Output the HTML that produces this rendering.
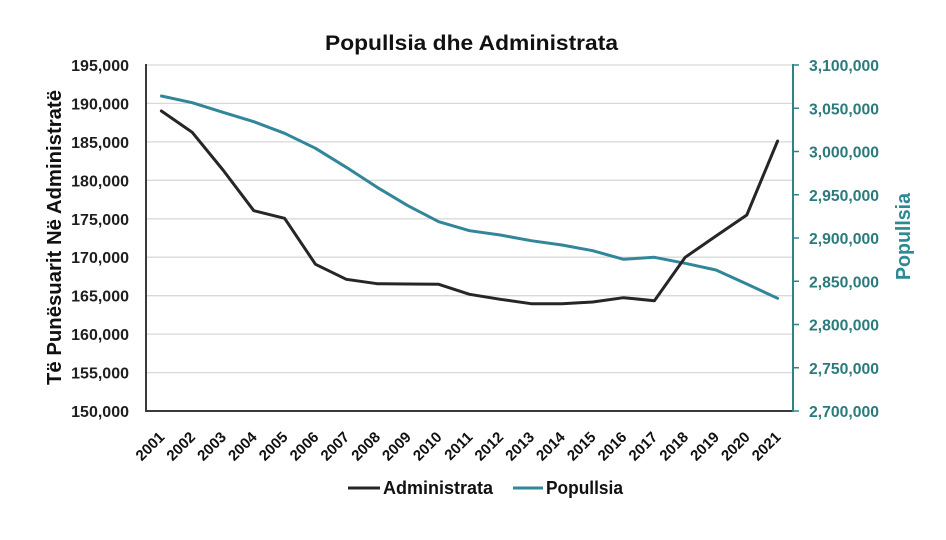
<!DOCTYPE html>
<html>
<head>
<meta charset="utf-8">
<style>
  html,body{margin:0;padding:0;background:#fff;}
  svg{display:block;}
  text{font-family:"Liberation Sans",sans-serif;font-weight:bold;}
</style>
</head>
<body>
<svg width="946" height="540" viewBox="0 0 946 540" xmlns="http://www.w3.org/2000/svg">
  <rect width="946" height="540" fill="#fff"/>
  <!-- Title -->
  <text x="325" y="50" font-size="21" fill="#111" textLength="293" lengthAdjust="spacingAndGlyphs">Popullsia dhe Administrata</text>

  <!-- gridlines -->
  <g stroke="#d9d9d9" stroke-width="1.3">
    <line x1="146" y1="65" x2="793" y2="65"/>
    <line x1="146" y1="103.4" x2="793" y2="103.4"/>
    <line x1="146" y1="141.9" x2="793" y2="141.9"/>
    <line x1="146" y1="180.3" x2="793" y2="180.3"/>
    <line x1="146" y1="218.8" x2="793" y2="218.8"/>
    <line x1="146" y1="257.2" x2="793" y2="257.2"/>
    <line x1="146" y1="295.7" x2="793" y2="295.7"/>
    <line x1="146" y1="334.1" x2="793" y2="334.1"/>
    <line x1="146" y1="372.6" x2="793" y2="372.6"/>
  </g>

  <!-- axes -->
  <line x1="146" y1="64" x2="146" y2="412" stroke="#3a3a3a" stroke-width="2"/>
  <line x1="145" y1="411" x2="794" y2="411" stroke="#3a3a3a" stroke-width="2"/>
  <line x1="793" y1="64" x2="793" y2="412" stroke="#2f8585" stroke-width="2"/>
  <g stroke="#2f8585" stroke-width="1.5">
    <line x1="793" y1="65" x2="799" y2="65"/>
    <line x1="793" y1="108.25" x2="799" y2="108.25"/>
    <line x1="793" y1="151.5" x2="799" y2="151.5"/>
    <line x1="793" y1="194.75" x2="799" y2="194.75"/>
    <line x1="793" y1="238" x2="799" y2="238"/>
    <line x1="793" y1="281.25" x2="799" y2="281.25"/>
    <line x1="793" y1="324.5" x2="799" y2="324.5"/>
    <line x1="793" y1="367.75" x2="799" y2="367.75"/>
    <line x1="793" y1="411" x2="799" y2="411"/>
  </g>

  <!-- left tick labels -->
  <g font-size="16" fill="#1e1e1e" text-anchor="end">
    <text x="129" y="71">195,000</text>
    <text x="129" y="109.4">190,000</text>
    <text x="129" y="147.9">185,000</text>
    <text x="129" y="186.3">180,000</text>
    <text x="129" y="224.8">175,000</text>
    <text x="129" y="263.2">170,000</text>
    <text x="129" y="301.7">165,000</text>
    <text x="129" y="340.1">160,000</text>
    <text x="129" y="378.6">155,000</text>
    <text x="129" y="417">150,000</text>
  </g>

  <!-- right tick labels -->
  <g font-size="16" fill="#2b7a7c">
    <text x="809" y="71" textLength="70" lengthAdjust="spacingAndGlyphs">3,100,000</text>
    <text x="809" y="114.25" textLength="70" lengthAdjust="spacingAndGlyphs">3,050,000</text>
    <text x="809" y="157.5" textLength="70" lengthAdjust="spacingAndGlyphs">3,000,000</text>
    <text x="809" y="200.75" textLength="70" lengthAdjust="spacingAndGlyphs">2,950,000</text>
    <text x="809" y="244" textLength="70" lengthAdjust="spacingAndGlyphs">2,900,000</text>
    <text x="809" y="287.25" textLength="70" lengthAdjust="spacingAndGlyphs">2,850,000</text>
    <text x="809" y="330.5" textLength="70" lengthAdjust="spacingAndGlyphs">2,800,000</text>
    <text x="809" y="373.75" textLength="70" lengthAdjust="spacingAndGlyphs">2,750,000</text>
    <text x="809" y="417" textLength="70" lengthAdjust="spacingAndGlyphs">2,700,000</text>
  </g>

  <!-- axis titles -->
  <text transform="translate(61,237.5) rotate(-90)" text-anchor="middle" font-size="20" fill="#111" textLength="295" lengthAdjust="spacingAndGlyphs">Të Punësuarit Në Administratë</text>
  <text transform="translate(910,236.5) rotate(-90)" text-anchor="middle" font-size="20" fill="#2b8a93" textLength="87" lengthAdjust="spacingAndGlyphs">Popullsia</text>

  <!-- x labels -->
  <g font-size="15" fill="#111" text-anchor="end">
    <text transform="translate(165.4,438) rotate(-45)">2001</text>
    <text transform="translate(196.2,438) rotate(-45)">2002</text>
    <text transform="translate(227.0,438) rotate(-45)">2003</text>
    <text transform="translate(257.8,438) rotate(-45)">2004</text>
    <text transform="translate(288.6,438) rotate(-45)">2005</text>
    <text transform="translate(319.5,438) rotate(-45)">2006</text>
    <text transform="translate(350.3,438) rotate(-45)">2007</text>
    <text transform="translate(381.1,438) rotate(-45)">2008</text>
    <text transform="translate(411.9,438) rotate(-45)">2009</text>
    <text transform="translate(442.7,438) rotate(-45)">2010</text>
    <text transform="translate(473.5,438) rotate(-45)">2011</text>
    <text transform="translate(504.3,438) rotate(-45)">2012</text>
    <text transform="translate(535.1,438) rotate(-45)">2013</text>
    <text transform="translate(565.9,438) rotate(-45)">2014</text>
    <text transform="translate(596.7,438) rotate(-45)">2015</text>
    <text transform="translate(627.5,438) rotate(-45)">2016</text>
    <text transform="translate(658.4,438) rotate(-45)">2017</text>
    <text transform="translate(689.2,438) rotate(-45)">2018</text>
    <text transform="translate(720.0,438) rotate(-45)">2019</text>
    <text transform="translate(750.8,438) rotate(-45)">2020</text>
    <text transform="translate(781.6,438) rotate(-45)">2021</text>
  </g>

  <!-- Population series -->
  <polyline fill="none" stroke="#31869a" stroke-width="3" stroke-linejoin="round" stroke-linecap="round"
    points="161.4,96 192.2,102.7 223.0,112.3 253.8,121.7 284.6,133.3 315.5,148.3 346.3,167.3 377.1,187.3 407.9,205.7 438.7,221.7 469.5,230.7 500.3,235 531.1,240.7 561.9,245 592.7,250.7 623.5,259.3 654.4,257.3 685.2,263.3 716.0,270 746.8,284 777.6,298.3"/>

  <!-- Administrata series -->
  <polyline fill="none" stroke="#262626" stroke-width="3" stroke-linejoin="round" stroke-linecap="round"
    points="161.4,111 192.2,132.3 223.0,170 253.8,210.7 284.6,218.3 315.5,264.3 346.3,279.3 377.1,283.7 407.9,284 438.7,284.3 469.5,294.3 500.3,299.3 531.1,303.7 561.9,303.7 592.7,302 623.5,297.7 654.4,300.7 685.2,257.3 716.0,236 746.8,215 777.6,141"/>

  <!-- Legend -->
  <line x1="348" y1="488" x2="380" y2="488" stroke="#262626" stroke-width="3"/>
  <text x="383" y="494" font-size="18" fill="#111" textLength="110" lengthAdjust="spacingAndGlyphs">Administrata</text>
  <line x1="513" y1="488" x2="543" y2="488" stroke="#31869a" stroke-width="3"/>
  <text x="546" y="494" font-size="18" fill="#111" textLength="77" lengthAdjust="spacingAndGlyphs">Popullsia</text>
</svg>
</body>
</html>
